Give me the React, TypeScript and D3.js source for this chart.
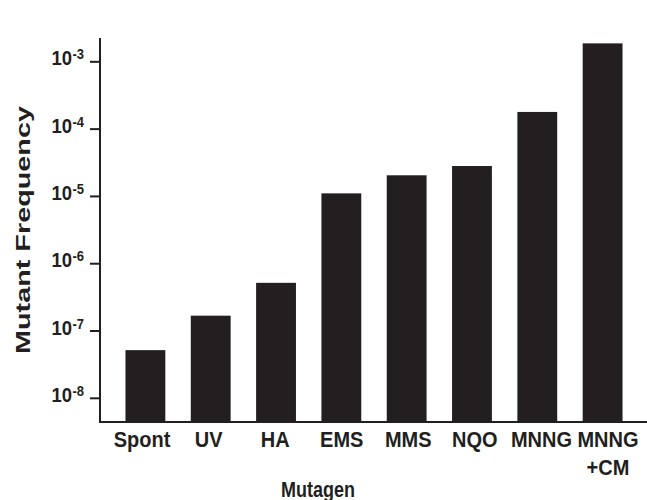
import React from "react";
import * as d3 from "d3";

const categories = ["Spont", "UV", "HA", "EMS", "MMS", "NQO", "MNNG", "MNNG+CM"];
const categoryLines = [["Spont"], ["UV"], ["HA"], ["EMS"], ["MMS"], ["NQO"], ["MNNG"], ["MNNG", "+CM"]];
const frequencies = [5.2e-8, 1.69e-7, 5.2e-7, 1.11e-5, 2.06e-5, 2.83e-5, 1.8e-4, 1.88e-3];
const tickExponents = [-8, -7, -6, -5, -4, -3];
const yTitle = "Mutant Frequency";
const xTitle = "Mutagen";

const W = 647;
const H = 500;
const INK = "#231f20";
const FONT = "'Liberation Sans', Arial, Helvetica, sans-serif";

export default function App() {
  const left = 100;
  const bottom = 422;
  const top = 38;
  const y = d3
    .scaleLog()
    .domain([Math.pow(10, -8.352), Math.pow(10, -2.646)])
    .range([bottom, top]);
  const x = d3
    .scaleBand<string>()
    .domain(categories)
    .range([left, 648])
    .paddingInner(0.39)
    .paddingOuter(0.39);
  const labelX = d3.scalePoint<string>().domain(categories).range([142, 608]);

  return (
    <svg
      width={W}
      height={H}
      viewBox={`0 0 ${W} ${H}`}
      style={{ position: "absolute", left: 0, top: 0, background: "#fff" }}
      fontFamily={FONT}
      fontWeight="bold"
    >
      <rect x={0} y={0} width={W} height={H} fill="#fff" />
      {categories.map((c, i) => (
        <rect
          key={c}
          x={x(c)}
          y={y(frequencies[i])}
          width={x.bandwidth()}
          height={bottom - y(frequencies[i])}
          fill={INK}
        />
      ))}
      {/* axes */}
      <line x1={left} x2={left} y1={top} y2={bottom + 1} stroke={INK} strokeWidth={2} />
      <line x1={left - 1} x2={647} y1={bottom} y2={bottom} stroke={INK} strokeWidth={2} />
      {tickExponents.map((e) => {
        const ty = y(Math.pow(10, e));
        return (
          <g key={e}>
            <line x1={left - 10} x2={left} y1={ty} y2={ty} stroke={INK} strokeWidth={2} />
            <text
              transform={`translate(72, ${ty + 3.5}) scale(1, 1.1)`}
              fontSize={18.5}
              textAnchor="end"
              fill={INK}
            >
              10
            </text>
            <text
              transform={`translate(72.5, ${ty - 2.5}) scale(1, 1.1)`}
              fontSize={13}
              textAnchor="start"
              fill={INK}
            >
              {`-${-e}`}
            </text>
          </g>
        );
      })}
      {categories.map((c, i) => {
        const cx = labelX(c) as number;
        return categoryLines[i].map((ln, j) => (
          <text
            key={c + j}
            transform={`translate(${cx}, ${447 + j * 28}) scale(1, 1.1)`}
            fontSize={20}
            textAnchor="middle"
            fill={INK}
          >
            {ln}
          </text>
        ));
      })}
      <text
        transform={`translate(318, 497) scale(1, 1.2)`}
        fontSize={18}
        textAnchor="middle"
        fill={INK}
      >
        {xTitle}
      </text>
      <text
        transform={`translate(30, 230) rotate(-90)`}
        fontSize={21}
        textAnchor="middle"
        textLength={248}
        lengthAdjust="spacingAndGlyphs"
        fill={INK}
      >
        {yTitle}
      </text>
    </svg>
  );
}
